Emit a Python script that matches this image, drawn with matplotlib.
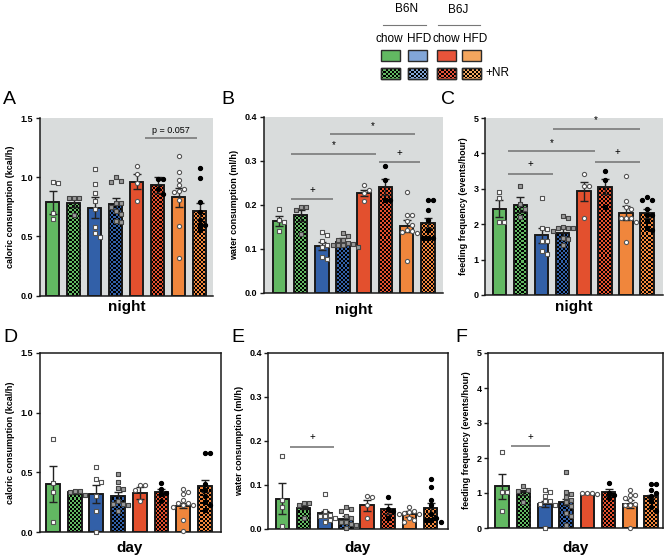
import numpy as np
import matplotlib
matplotlib.use("Agg")
import matplotlib.pyplot as plt
from matplotlib.patches import Rectangle

plt.rcParams['font.family'] = ['Liberation Sans', 'DejaVu Sans']

W, H = 667, 558

# ---------------- data ----------------
groups = ["B6N chow", "B6N chow +NR", "B6N HFD", "B6N HFD +NR",
          "B6J chow", "B6J chow +NR", "B6J HFD", "B6J HFD +NR"]
bar_colors = ["#62b862", "#62b862", "#3260a8", "#3260a8",
              "#e3502e", "#e3502e", "#f0863c", "#f0863c"]
legend_colors = ["#62b862", "#82a6d8", "#e8543a", "#f4a65e"]
checkered = [False, True, False, True, False, True, False, True]

# A: caloric consumption, night
A_mean = [0.787, 0.781, 0.742, 0.770, 0.962, 0.934, 0.829, 0.716]
A_sem = [0.096, 0.035, 0.087, 0.050, 0.063, 0.071, 0.082, 0.068]
A_pts = [[0.948, 0.957, 0.693, 0.643],
         [0.82, 0.82, 0.82, 0.68],
         [1.067, 0.943, 0.869, 0.80, 0.727, 0.575, 0.524, 0.495],
         [1.0, 0.97, 0.96, 0.78, 0.75, 0.71, 0.69, 0.63, 0.62, 0.78],
         [1.095, 1.025, 0.948, 0.80],
         [0.985, 0.985, 0.86, 0.90],
         [1.183, 1.042, 0.976, 0.934, 0.90, 0.883, 0.877, 0.807, 0.589, 0.32],
         [1.081, 0.99, 0.79, 0.708, 0.637, 0.594, 0.552, 0.60]]
A_sig = [(4.39, 6.89, 1.33, "p = 0.057")]

# B: water consumption, night
B_mean = [0.1636, 0.1765, 0.107, 0.116, 0.228, 0.241, 0.1515, 0.159]
B_sem = [0.0104, 0.0125, 0.010, 0.009, 0.007, 0.019, 0.0135, 0.011]
B_pts = [[0.190, 0.167, 0.161, 0.140],
         [0.195, 0.195, 0.188, 0.133],
         [0.139, 0.131, 0.118, 0.110, 0.1045, 0.082, 0.0765],
         [0.136, 0.129, 0.121, 0.114, 0.112, 0.108, 0.108, 0.11, 0.105, 0.12],
         [0.245, 0.235, 0.228, 0.209],
         [0.288, 0.256, 0.212, 0.212],
         [0.2295, 0.1765, 0.1765, 0.1636, 0.154, 0.144, 0.141, 0.139, 0.136, 0.0727],
         [0.212, 0.212, 0.189, 0.165, 0.144, 0.125, 0.125, 0.125]]
B_sig = [(0.57, 2.53, 0.213, "+"), (0.57, 4.58, 0.3167, "*"),
         (2.41, 6.42, 0.3606, "*"), (4.69, 6.65, 0.2977, "+")]

# C: feeding frequency, night
C_mean = [2.443, 2.547, 1.689, 1.764, 2.925, 3.057, 2.311, 2.311]
C_sem = [0.247, 0.21, 0.217, 0.123, 0.28, 0.217, 0.19, 0.123]
C_pts = [[2.92, 2.74, 2.075, 2.075],
         [3.085, 2.566, 2.434, 2.198],
         [2.736, 1.887, 1.858, 1.528, 1.528, 1.255, 1.16],
         [2.236, 2.17, 1.934, 1.887, 1.887, 1.887, 1.82, 1.604, 1.575, 1.415],
         [3.415, 3.085, 3.085, 2.17],
         [3.49, 3.255, 2.5],
         [3.349, 2.642, 2.5, 2.425, 2.17, 2.17, 2.17, 2.075, 1.49],
         [2.755, 2.689, 2.689, 2.434, 2.264, 2.264, 1.9, 2.1, 1.85]]
C_sig = [(0.39, 2.52, 3.425, "+"), (0.39, 4.53, 4.057, "*"),
         (2.52, 6.66, 4.69, "*"), (4.53, 6.66, 3.77, "+")]

# D: caloric consumption, day
D_mean = [0.402, 0.332, 0.318, 0.299, 0.327, 0.335, 0.221, 0.383]
D_sem = [0.148, 0.010, 0.072, 0.036, 0.047, 0.028, 0.022, 0.050]
D_pts = [[0.779, 0.41, 0.332, 0.084],
         [0.34, 0.332, 0.34, 0.31],
         [0.542, 0.444, 0.419, 0.304, 0.179, 0.0],
         [0.486, 0.416, 0.369, 0.36, 0.257, 0.237, 0.237, 0.23, 0.173],
         [0.391, 0.391, 0.355, 0.257],
         [0.41, 0.36, 0.33, 0.257, 0.32],
         [0.363, 0.332, 0.318, 0.271, 0.243, 0.243, 0.229, 0.229, 0.207, 0.098, 0.006],
         [0.662, 0.662, 0.402, 0.229, 0.187, 0.3, 0.25, 0.35]]
D_sig = []

# E: water consumption, day
E_mean = [0.069, 0.0485, 0.037, 0.0224, 0.054, 0.045, 0.035, 0.0485]
E_sem = [0.035, 0.004, 0.004, 0.0066, 0.012, 0.012, 0.007, 0.011]
E_pts = [[0.165, 0.066, 0.05, 0.007],
         [0.059, 0.059, 0.054, 0.025],
         [0.08, 0.04, 0.032, 0.029, 0.024, 0.016, 0.02, 0.03],
         [0.05, 0.045, 0.04, 0.03, 0.024, 0.016, 0.016, 0.012, 0.009, 0.002],
         [0.072, 0.076, 0.054, 0.024],
         [0.072, 0.045, 0.04, 0.025],
         [0.05, 0.042, 0.039, 0.037, 0.033, 0.033, 0.026, 0.02, 0.017],
         [0.113, 0.095, 0.066, 0.055, 0.035, 0.025, 0.02, 0.02, 0.015]]
E_sig = [(0.35, 2.44, 0.1875, "+")]

# F: feeding frequency, day
F_mean = [1.19, 1.02, 0.695, 0.743, 0.98, 1.02, 0.686, 0.905]
F_sem = [0.353, 0.075, 0.085, 0.095, 0.02, 0.094, 0.124, 0.047]
F_pts = [[2.17, 1.02, 1.02, 0.495],
         [1.19, 1.095, 1.067, 0.75],
         [1.095, 1.02, 0.924, 0.762, 0.762, 0.686, 0.667, 0.0],
         [1.59, 1.02, 0.97, 0.876, 0.81, 0.733, 0.619, 0.43, 0.333, 0.1],
         [0.98, 1.0, 1.0, 0.99],
         [1.286, 0.857, 1.0, 0.95],
         [1.095, 0.952, 0.952, 0.857, 0.81, 0.686, 0.667, 0.667, 0.0],
         [1.257, 1.267, 1.095, 1.0, 0.905, 0.76, 0.6, 0.5]]
F_sig = [(0.44, 2.25, 2.333, "+")]

cal_ticks = [0.0, 0.5, 1.0, 1.5]
water_ticks = [0.0, 0.1, 0.2, 0.3, 0.4]
feed_ticks = [0, 1, 2, 3, 4, 5]

# ---------------- helpers ----------------
fig = plt.figure(figsize=(W / 100, H / 100), dpi=100)


def px_axes(l, t, r, b):
    return fig.add_axes([l / W, 1 - b / H, (r - l) / W, (b - t) / H])


def add_checker(ax, patch, cell=2.0):
    pos = ax.get_position()
    nx = max(1, int(round(pos.width * W / cell)))
    ny = max(1, int(round(pos.height * H / cell)))
    yy, xx = np.mgrid[0:ny, 0:nx]
    img = np.zeros((ny, nx, 4))
    img[..., 3] = ((xx + yy) % 2 == 0).astype(float)
    im = ax.imshow(img, extent=[0, 1, 0, 1], transform=ax.transAxes,
                   interpolation='nearest', aspect='auto',
                   zorder=patch.get_zorder() + 0.1)
    im.set_clip_path(patch)


marker_style = [
    dict(marker='s', facecolor='white', edgecolor='#555555'),
    dict(marker='s', facecolor='#9a9a9a', edgecolor='#444444'),
    dict(marker='s', facecolor='white', edgecolor='#555555'),
    dict(marker='s', facecolor='#9a9a9a', edgecolor='#444444'),
    dict(marker='o', facecolor='white', edgecolor='#555555'),
    dict(marker='o', facecolor='black', edgecolor='black'),
    dict(marker='o', facecolor='white', edgecolor='#555555'),
    dict(marker='o', facecolor='black', edgecolor='black'),
]


def swarm_offsets(vals, ypx_per_unit, xpx_per_unit, d=5.0, maxk=3):
    order = np.argsort(vals)[::-1]
    placed = []
    offs = np.zeros(len(vals))
    cands = [0]
    for k in range(1, maxk + 1):
        cands += [k, -k]
    for i in order:
        y = vals[i] * ypx_per_unit
        chosen = None
        for c in cands:
            x = c * d
            if all((x - px) ** 2 + (y - py) ** 2 >= (d * 0.95) ** 2 for px, py in placed):
                chosen = x
                break
        if chosen is None:
            chosen = 0.0
        placed.append((chosen, y))
        offs[i] = chosen / xpx_per_unit
    return offs


def panel(rect, letter, letter_xy, means, sems, pts, ylim, yticks, fmt,
          ylabel, xlabel, xlabel_y, shaded, sigs, xlim):
    l, t, r, b = rect
    ax = px_axes(l, t, r, b)
    x = np.arange(len(means))
    bars = ax.bar(x, means, width=0.64, color=bar_colors, edgecolor='#1a1a1a',
                  linewidth=1.2, zorder=2)
    for bar, chk in zip(bars, checkered):
        if chk:
            add_checker(ax, bar)
    ax.bar(x, means, width=0.64, fill=False, edgecolor='#1a1a1a',
           linewidth=1.2, zorder=2.3)
    ax.errorbar(x, means, yerr=sems, fmt='none', ecolor='#222222',
                elinewidth=1.0, capsize=3, capthick=1.0, zorder=3)
    ax.set_xlim(*xlim)
    ax.set_ylim(*ylim)
    xppu = (r - l) / (xlim[1] - xlim[0])
    yppu = (b - t) / (ylim[1] - ylim[0])
    for i, vals in enumerate(pts):
        vals = np.asarray(vals)
        offs = swarm_offsets(vals, yppu, xppu)
        st = marker_style[i]
        ax.scatter(x[i] + offs, vals, s=9, marker=st['marker'],
                   facecolor=st['facecolor'], edgecolor=st['edgecolor'],
                   linewidths=0.8, zorder=4, clip_on=False)
    for x0, x1, y, lab in sigs:
        ax.plot([x0, x1], [y, y], color='#7a7a7a', lw=1.2, zorder=3,
                solid_capstyle='butt')
        if lab.startswith('p'):
            ax.text((x0 + x1) / 2, y + 0.015 * (ylim[1] - ylim[0]), lab,
                    ha='center', va='bottom', fontsize=6.5)
        elif lab == '*':
            ax.text((x0 + x1) / 2, y + 0.02 * (ylim[1] - ylim[0]), lab,
                    ha='center', va='bottom', fontsize=7)
        else:
            ax.text((x0 + x1) / 2, y + 0.025 * (ylim[1] - ylim[0]), lab,
                    ha='center', va='bottom', fontsize=7)
    ax.set_xticks([])
    ax.set_yticks(yticks)
    ax.set_yticklabels([fmt.format(v) for v in yticks], fontweight='bold',
                       fontsize=6.5)
    ax.tick_params(axis='y', length=3, width=1.0, pad=1.5, color='#1a1a1a')
    ax.set_ylabel(ylabel, fontsize=6.5, fontweight='bold', labelpad=4)
    if shaded:
        ax.set_facecolor('#d9dcdc')
        ax.spines['top'].set_visible(False)
        ax.spines['right'].set_visible(False)
    for s in ax.spines.values():
        s.set_linewidth(1.1)
        s.set_color('#1a1a1a')
    ax.text(0.5, -(xlabel_y - b) / (b - t), xlabel, transform=ax.transAxes,
            ha='center', va='center', fontsize=11, fontweight='bold')
    fig.text(letter_xy[0] / W, 1 - letter_xy[1] / H, letter, fontsize=14,
             ha='left', va='center')
    return ax


panel((39.5, 118, 213, 295.5), 'A', (3, 100), A_mean, A_sem, A_pts,
      (0, 1.5), cal_ticks, '{:.1f}', 'caloric consumption (kcal/h)',
      'night', 307, True, A_sig, (-0.63, 7.63))
panel((263.5, 117, 443, 293), 'B', (221, 100), B_mean, B_sem, B_pts,
      (0, 0.4), water_ticks, '{:.1f}', 'water consumption (ml/h)',
      'night', 310, True, B_sig, (-0.75, 7.72))
panel((485, 118, 662.5, 295), 'C', (441, 100), C_mean, C_sem, C_pts,
      (0, 5), feed_ticks, '{:d}', 'feeding frequency (events/hour)',
      'night', 307, True, C_sig, (-0.68, 7.73))
panel((39.5, 353, 220.5, 532), 'D', (3, 338), D_mean, D_sem, D_pts,
      (0, 1.5), cal_ticks, '{:.1f}', 'caloric consumption (kcal/h)',
      'day', 548, False, D_sig, (-0.62, 7.72))
panel((268, 353, 447.5, 529), 'E', (231, 338), E_mean, E_sem, E_pts,
      (0, 0.4), water_ticks, '{:.1f}', 'water consumption (ml/h)',
      'day', 548, False, E_sig, (-0.68, 7.8))
panel((488, 353, 663, 528), 'F', (455, 338), F_mean, F_sem, F_pts,
      (0, 5), feed_ticks, '{:d}', 'feeding frequency (events/hour)',
      'day', 548, False, F_sig, (-0.66, 7.55))

# ---------------- legend ----------------
lax = fig.add_axes([0, 0, 1, 1], zorder=10)
lax.set_xlim(0, W)
lax.set_ylim(H, 0)
lax.axis('off')
lax.patch.set_alpha(0)
lfont = dict(fontsize=8.5)
lax.text(407, 9, 'B6N', ha='center', va='center', **lfont)
lax.text(458, 10, 'B6J', ha='center', va='center', **lfont)
lax.plot([383, 426], [25, 25], color='#777777', lw=0.8)
lax.plot([438, 480], [25, 25], color='#777777', lw=0.8)
for xc, lab in zip([389.5, 419.5, 446.5, 475.5], ['chow', 'HFD', 'chow', 'HFD']):
    lax.text(xc, 39, lab, ha='center', va='center', **lfont)
sw_x = [381, 408, 437, 462]
for col, xl in zip(legend_colors, sw_x):
    r1 = Rectangle((xl, 50), 18.5, 11, facecolor=col, edgecolor='#2a2a2a', lw=1.0)
    lax.add_patch(r1)
    r2 = Rectangle((xl, 68), 18.5, 10.5, facecolor=col, edgecolor='#2a2a2a',
                   lw=1.0, zorder=2)
    lax.add_patch(r2)
    add_checker(lax, r2)
    lax.add_patch(Rectangle((xl, 68), 18.5, 10.5, fill=False,
                            edgecolor='#2a2a2a', lw=1.0, zorder=3))
lax.text(485, 73, '+NR', ha='left', va='center', **lfont)

fig.savefig('out.png', dpi=100)
